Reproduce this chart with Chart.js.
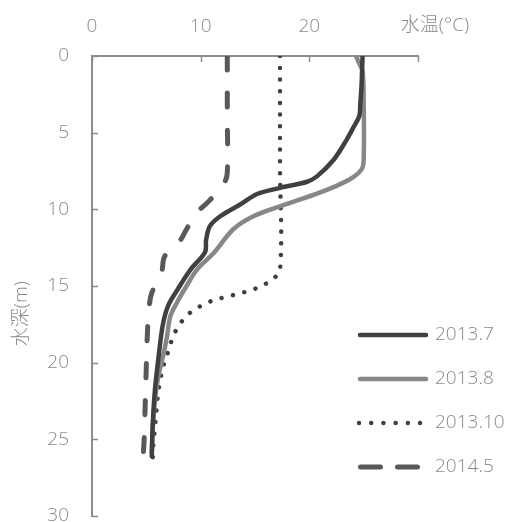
<!DOCTYPE html>
<html>
<head>
<meta charset="utf-8">
<script src="https://cdn.jsdelivr.net/npm/chart.js@4/dist/chart.umd.min.js"></script>
<style>
  html, body { margin: 0; padding: 0; background: #fff; }
  #wrap { width: 516px; height: 522px; }
</style>
</head>
<body>
<div id="wrap"><canvas id="c" width="516" height="522"></canvas></div>
<script>
// Water temperature profiles (°C) against depth (m)
const seriesLabels = ['2013.7', '2013.8', '2013.10', '2014.5'];

const depth201307 = [0, 1, 2, 3, 3.9, 4.6, 5.5, 6.8, 7.85, 8.2, 8.6, 9.0, 9.7, 10.45, 11.1, 12.0, 12.8, 13.9, 15.2, 16.3, 17.6, 19.8, 21.7, 23.9, 26.1];
const temp201307  = [24.9, 24.85, 24.8, 24.7, 24.6, 24.1, 23.4, 22.2, 20.7, 19.8, 17.3, 15.2, 13.6, 11.8, 10.85, 10.5, 10.4, 9.1, 7.9, 7.0, 6.5, 6.1, 5.8, 5.6, 5.5];

const depth201308 = [0, 0.5, 1.0, 3, 6.8, 7.4, 8.05, 8.9, 9.8, 10.45, 11.3, 12.85, 13.9, 15.0, 16.1, 17.0, 18.3, 19.55, 20.9, 22.4, 24.1, 25.85];
const temp201308  = [24.3, 24.6, 24.9, 25.0, 25.0, 24.8, 23.7, 21.0, 17.3, 14.85, 13.0, 11.2, 9.7, 8.7, 7.8, 7.2, 6.9, 6.55, 6.1, 5.8, 5.6, 5.5];

const depth201310 = [0, 7, 14.0, 14.6, 15.0, 15.3, 15.5, 15.7, 15.9, 16.2, 16.6, 17.1, 17.75, 18.4, 19.2, 19.9, 20.7, 21.45, 22.2, 23.0, 24.55, 25.3, 26.1, 26.9];
const temp201310  = [17.3, 17.3, 17.3, 16.5, 15.6, 14.5, 13.5, 12.4, 11.3, 10.3, 9.3, 8.5, 7.85, 7.4, 7.05, 6.7, 6.4, 6.2, 6.05, 5.95, 5.75, 5.65, 5.6, 5.5];

const depth201405 = [0, 4, 7.6, 8.3, 9.4, 10.25, 11.3, 12.2, 13.05, 14.1, 15.45, 16.4, 18.05, 20.2, 22.6, 25.0, 26.2];
const temp201405  = [12.45, 12.45, 12.45, 12.15, 10.85, 9.6, 8.7, 7.95, 6.7, 6.4, 5.5, 5.25, 5.1, 5.0, 4.9, 4.8, 4.7];

const tempTicks  = [0, 10, 20, 30];
const depthTicks = [0, 5, 10, 15, 20, 25, 30];
const tempTitle  = '水温(°C)';
const depthTitle = '水深(m)';

const FONT = '"Open Sans", "Noto Sans CJK JP", sans-serif';
const TEXT = '#8a8a8a';
const AXIS = '#8c8c8c';

function pts(d, t) { return d.map((v, i) => ({ x: t[i], y: v })); }

const styles = [
  { color: '#404040', width: 4.5, dash: [], legendDash: [] },
  { color: '#878787', width: 4.5, dash: [], legendDash: [] },
  { color: '#404040', width: 4.5, dash: [0.01, 11.7], legendDash: [0.01, 12.2] },
  { color: '#595959', width: 5, dash: [14, 23], legendDash: [20, 17] }
];
const pointSets = [
  pts(depth201307, temp201307),
  pts(depth201308, temp201308),
  pts(depth201310, temp201310),
  pts(depth201405, temp201405)
];

const datasets = seriesLabels.map((lab, i) => ({
  label: lab,
  data: pointSets[i],
  showLine: true,
  borderColor: styles[i].color,
  backgroundColor: styles[i].color,
  borderWidth: styles[i].width,
  borderDash: styles[i].dash,
  borderCapStyle: 'round',
  borderJoinStyle: 'round',
  pointRadius: 0,
  tension: 0.35,
  fill: false
}));

// Inward tick marks, axis titles and the line-sample key
const decorations = {
  id: 'decorations',
  afterDraw(chart) {
    const ctx = chart.ctx;
    const xs = chart.scales.x, ys = chart.scales.y;
    const area = chart.chartArea;
    ctx.save();
    ctx.strokeStyle = AXIS;
    ctx.lineWidth = 1.5;
    tempTicks.forEach(v => {
      const px = Math.round(xs.getPixelForValue(v)) + 0.5;
      ctx.beginPath(); ctx.moveTo(px, area.top); ctx.lineTo(px, area.top + 6); ctx.stroke();
    });
    depthTicks.forEach(v => {
      const py = Math.round(ys.getPixelForValue(v)) + 0.5;
      ctx.beginPath(); ctx.moveTo(area.left, py); ctx.lineTo(area.left + 6, py); ctx.stroke();
    });

    ctx.fillStyle = TEXT;
    ctx.font = '300 19px ' + FONT;
    ctx.textAlign = 'center';
    ctx.textBaseline = 'middle';
    ctx.fillText(tempTitle, xs.getPixelForValue(30) + 17, 26);

    ctx.save();
    ctx.translate(22, ys.getPixelForValue(16.8));
    ctx.rotate(-Math.PI / 2);
    ctx.fillText(depthTitle, 0, 0);
    ctx.restore();

    const rowY = [335, 379, 423, 467];
    chart.data.datasets.forEach((ds, i) => {
      const y = rowY[i];
      const st = styles[i];
      ctx.save();
      ctx.strokeStyle = ds.borderColor;
      ctx.lineWidth = st.width;
      ctx.lineCap = 'round';
      ctx.setLineDash(st.legendDash);
      ctx.beginPath();
      if (i === 2) { ctx.moveTo(359, y); ctx.lineTo(420.1, y); }
      else if (i === 3) { ctx.moveTo(360.5, y); ctx.lineTo(417.5, y); }
      else { ctx.moveTo(360, y); ctx.lineTo(426, y); }
      ctx.stroke();
      ctx.restore();
      ctx.fillStyle = TEXT;
      ctx.font = '300 19px ' + FONT;
      ctx.textAlign = 'left';
      ctx.textBaseline = 'middle';
      ctx.fillText(ds.label, 435, y);
    });
    ctx.restore();
  }
};

new Chart(document.getElementById('c'), {
  type: 'scatter',
  data: { datasets },
  plugins: [decorations],
  options: {
    responsive: false,
    animation: false,
    devicePixelRatio: 1,
    layout: { padding: { left: 0, right: 98, top: 0, bottom: 6 } },
    plugins: { legend: { display: false }, tooltip: { enabled: false } },
    scales: {
      x: {
        type: 'linear',
        position: 'top',
        min: 0, max: 30,
        afterFit(s) { s.height = 56; s.paddingLeft = 0; s.paddingRight = 0; },
        afterBuildTicks(s) { s.ticks = tempTicks.map(v => ({ value: v })); },
        grid: { display: false, drawTicks: false },
        border: { display: true, color: AXIS, width: 2 },
        ticks: {
          padding: 18,
          color: TEXT,
          font: { family: FONT, size: 19, weight: '300' },
          maxRotation: 0,
          callback: v => (v === 30 ? '' : String(v))
        }
      },
      y: {
        type: 'linear',
        position: 'left',
        reverse: true,
        min: 0, max: 30,
        afterFit(s) { s.width = 92; s.paddingTop = 0; s.paddingBottom = 0; },
        afterBuildTicks(s) { s.ticks = depthTicks.map(v => ({ value: v })); },
        grid: { display: false, drawTicks: false },
        border: { display: true, color: AXIS, width: 2 },
        ticks: {
          padding: 23,
          color: TEXT,
          font: { family: FONT, size: 19, weight: '300' },
          callback: v => String(v)
        }
      }
    }
  }
});
</script>
</body>
</html>
